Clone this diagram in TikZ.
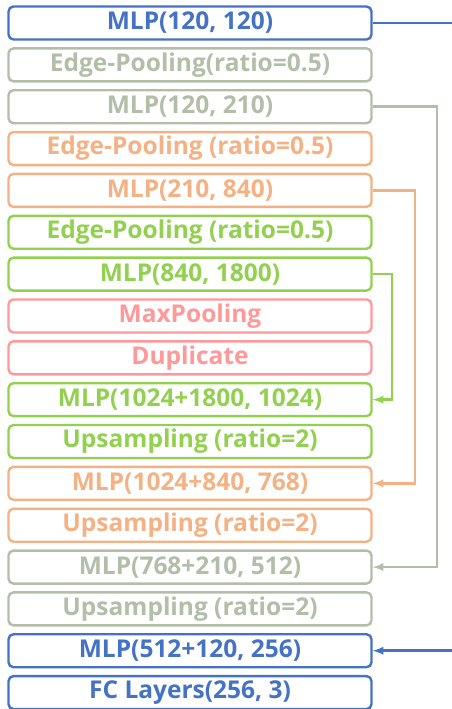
\documentclass[tikz,border=0pt]{standalone}
\usepackage{fontspec}
\setmainfont{Open Sans}
\usetikzlibrary{positioning}

\definecolor{encblue}{HTML}{4472C4}
\definecolor{encgray}{RGB}{178,190,168}
\definecolor{encorange}{HTML}{F4B183}
\definecolor{encgreen}{HTML}{92D050}
\definecolor{encpink}{HTML}{FF9999}

\tikzset{
  layer/.style={draw=#1,text=#1,line width=2.4pt,rounded corners=5pt,
    minimum width=363pt,minimum height=33pt,inner sep=0pt},
  skipline/.style={draw=#1,line width=2.6pt},
}

\begin{document}
\begin{tikzpicture}[x=1pt,y=1pt,>=latex,node distance=6.45pt,
  font=\fontsize{24.5}{28}\selectfont\bfseries]
  \useasboundingbox (0,0) rectangle (452,-709);

  \node[layer=encblue] (mlpa) at (190,-23) {MLP(120, 120)};
  \node[layer=encgray,below=of mlpa] (poolb) {Edge-Pooling(ratio=0.5)};
  \node[layer=encgray,below=of poolb] (mlpb) {MLP(120, 210)};
  \node[layer=encorange,below=of mlpb] (poolc) {Edge-Pooling (ratio=0.5)};
  \node[layer=encorange,below=of poolc] (mlpc) {MLP(210, 840)};
  \node[layer=encgreen,below=of mlpc] (poold) {Edge-Pooling (ratio=0.5)};
  \node[layer=encgreen,below=of poold] (mlpd) {MLP(840, 1800)};
  \node[layer=encpink,below=of mlpd] (maxpool) {MaxPooling};
  \node[layer=encpink,below=of maxpool] (dup) {Duplicate};
  \node[layer=encgreen,below=of dup] (catd) {MLP(1024+1800, 1024)};
  \node[layer=encgreen,below=of catd] (upd) {Upsampling (ratio=2)};
  \node[layer=encorange,below=of upd] (catc) {MLP(1024+840, 768)};
  \node[layer=encorange,below=of catc] (upc) {Upsampling (ratio=2)};
  \node[layer=encgray,below=of upc] (catb) {MLP(768+210, 512)};
  \node[layer=encgray,below=of catb] (upb) {Upsampling (ratio=2)};
  \node[layer=encblue,below=of upb] (cata) {MLP(512+120, 256)};
  \node[layer=encblue,below=of cata] (fc) {FC Layers(256, 3)};

  % skip connections
  \coordinate (rightedge) at (452,0);
  \coordinate (graycol) at (437,0);
  \coordinate (orangecol) at (415,0);
  \coordinate (greencol) at (392,0);

  \draw[skipline=encblue] (mlpa.east) -- (mlpa.east -| rightedge);
  \draw[skipline=encblue,->] (cata.east -| rightedge) -- (cata.east);
  \draw[skipline=encgray,->] (mlpb.east) -- (mlpb.east -| graycol) |- (catb.east);
  \draw[skipline=encorange,->] (mlpc.east) -- (mlpc.east -| orangecol) |- (catc.east);
  \draw[skipline=encgreen,->] (mlpd.east) -- (mlpd.east -| greencol) |- (catd.east);

\end{tikzpicture}
\end{document}
